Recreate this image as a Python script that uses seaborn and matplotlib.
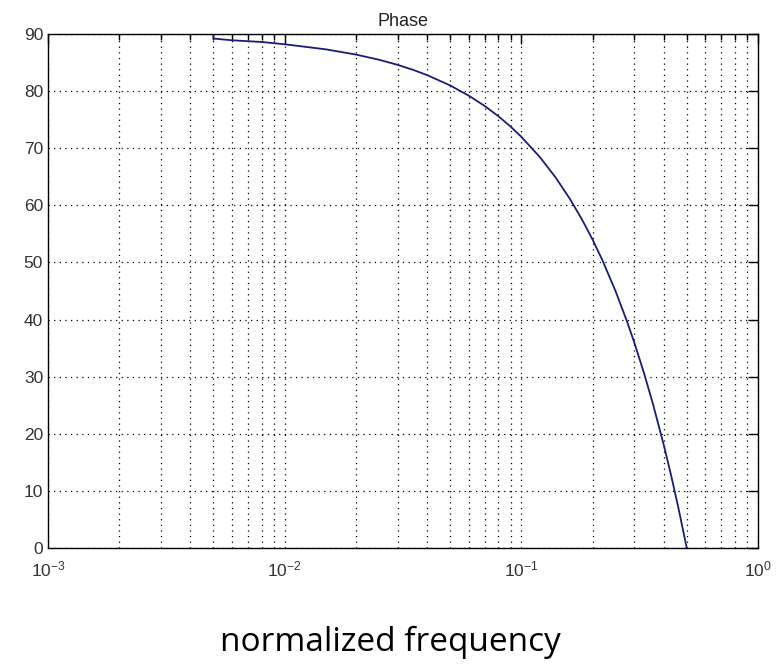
import matplotlib
matplotlib.use("Agg")
import matplotlib.pyplot as plt
import seaborn as sns
import numpy as np
import pandas as pd
from matplotlib.ticker import LogLocator, NullFormatter

freq = [0.005, 0.005, 0.006, 0.008, 0.01, 0.012, 0.015, 0.02, 0.025, 0.03, 0.035, 0.04,
        0.05, 0.06, 0.07, 0.08, 0.09, 0.1, 0.12, 0.14, 0.16, 0.18, 0.2, 0.22,
        0.25, 0.28, 0.3, 0.33, 0.36, 0.4, 0.43, 0.46, 0.5]
phase = [90.0, 89.2, 88.9, 88.6, 88.2, 87.8, 87.3, 86.4, 85.5, 84.6, 83.7, 82.8,
         81.0, 79.2, 77.4, 75.6, 73.8, 72.0, 68.4, 64.8, 61.2, 57.6, 54.0, 50.4,
         45.0, 39.6, 36.0, 30.6, 25.2, 18.0, 12.6, 7.2, 0.0]
yticks = [0, 10, 20, 30, 40, 50, 60, 70, 80, 90]
xticks = [1e-3, 1e-2, 1e-1, 1e0]
xticklabels = ["$10^{-3}$", "$10^{-2}$", "$10^{-1}$", "$10^{0}$"]

sns.set_theme(style="white")
plt.rcParams['font.family'] = ['Liberation Sans', 'DejaVu Sans']
plt.rcParams['mathtext.fontset'] = 'custom'
plt.rcParams['mathtext.rm'] = 'Liberation Sans'
plt.rcParams['mathtext.it'] = 'Liberation Sans'

df = pd.DataFrame({"freq": freq, "phase": phase})

fig = plt.figure(figsize=(7.81, 6.70), dpi=100)
ax = fig.add_axes([48/781, 1-548/670, 710/781, 514/670])

sns.lineplot(data=df, x="freq", y="phase", ax=ax, color="#1c1c78", linewidth=1.3,
             estimator=None, sort=False)
ax.set_xscale("log")
ax.set_xlim(1e-3, 1)
ax.set_ylim(0, 90)
ax.set_xticks(xticks)
ax.set_xticklabels(xticklabels)
ax.xaxis.set_minor_locator(LogLocator(base=10, subs=np.arange(2, 10)))
ax.xaxis.set_minor_formatter(NullFormatter())
ax.set_yticks(yticks)
ax.set_xlabel("")
ax.set_ylabel("")

gl = dict(color="black", linestyle=(0, (1, 3.5)), linewidth=0.9)
ax.grid(True, which="major", axis="both", **gl)
ax.grid(True, which="minor", axis="x", **gl)

for s in ax.spines.values():
    s.set_color("black")
    s.set_linewidth(1.0)

ax.tick_params(which="both", direction="in", top=True, right=True, colors="black",
               labelcolor="#333333", labelsize=12.5)
ax.tick_params(which="major", length=7, width=1)
ax.tick_params(which="minor", length=4, width=1)
ax.tick_params(axis="x", pad=8)

ax.set_title("Phase", fontsize=13, color="#222222", pad=6)

fig.text(0.5, 1-642/670, "normalized frequency", ha="center", va="center",
         fontsize=24, family=["Open Sans", "DejaVu Sans"], color="black")

fig.savefig("out.png", dpi=100, facecolor="white")
